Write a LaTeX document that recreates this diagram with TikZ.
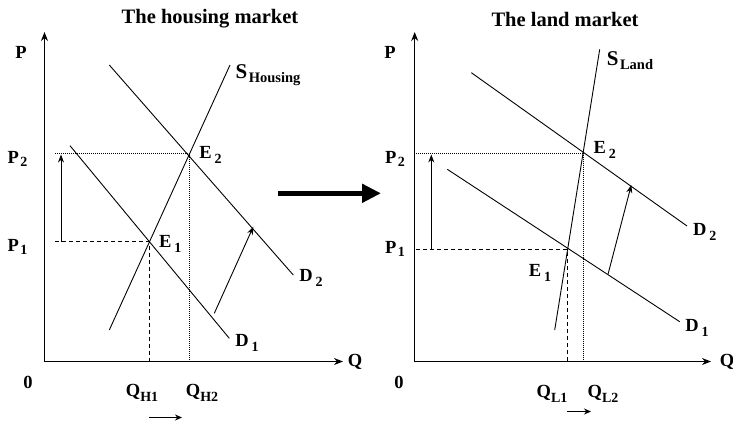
\documentclass[tikz,border=0pt]{standalone}
\usepackage{fontspec}
\setmainfont{Liberation Serif}
\usetikzlibrary{arrows.meta}
\newcommand\sublab[2]{#1\hspace{3pt}\raisebox{-5pt}{\fontsize{14}{14}\selectfont #2}}
\newcommand\plab[2]{#1\hspace{1.5pt}\raisebox{-2.5pt}{\fontsize{14}{14}\selectfont #2}}
\newcommand\qlab[2]{#1\raisebox{-5pt}{\fontsize{14}{14}\selectfont #2}}
\newcommand\slab[2]{{\fontsize{21}{21}\selectfont #1}\hspace{1.5pt}\raisebox{-4pt}{\fontsize{14.5}{14.5}\selectfont #2}}
\begin{document}
\begin{tikzpicture}[x=1pt,y=-1pt,
  curve/.style={line width=0.9pt},
  axisline/.style={line width=1.3pt,-{Stealth[length=9pt,width=7pt]}},
  dashguide/.style={line width=0.8pt,dash pattern=on 4pt off 3pt},
  dotguide/.style={line width=0.8pt,dash pattern=on 1pt off 1pt},
  shiftarrow/.style={line width=0.9pt,-{Stealth[length=8pt,width=6pt]}},
  smallarrow/.style={line width=0.9pt,-{Stealth[length=7pt,width=6pt]}},
  bigarrow/.style={line width=5pt,-{Triangle[length=19pt,width=18pt]}},
  lbl/.style={font=\fontsize{18.5}{18.5}\selectfont\bfseries, inner sep=0pt},
  ttl/.style={font=\fontsize{20.5}{20.5}\selectfont\bfseries, inner sep=0pt},
]
\useasboundingbox (0,0) rectangle (733,421);

% ---------------- housing market ----------------
\coordinate (hO) at (44.5,361.5);
\coordinate (hYt) at (44.5,32);
\coordinate (hXr) at (343,361.5);
\coordinate (hE1) at (149,241.7);
\coordinate (hE2) at (189.3,153.7);
\coordinate (hSa) at (109.3,330);
\coordinate (hSb) at (230,65);
\coordinate (hD1a) at (70,145.7);
\coordinate (hD1b) at (229.3,338.3);
\coordinate (hD2a) at (109.3,65);
\coordinate (hD2b) at (293.3,275);
\coordinate (hP1) at (55,241.7);
\coordinate (hP2) at (55,153.7);
\coordinate (hQ1) at (149,361.5);
\coordinate (hQ2) at (189.3,361.5);
\coordinate (hA1) at (61,241.7);
\coordinate (hA2) at (61,154.5);
\coordinate (hB1) at (214.3,313.3);
\coordinate (hB2) at (253.3,226.7);
\coordinate (hC1) at (149,417.5);
\coordinate (hC2) at (182,417.5);

\draw[axisline] (hO) -- (hYt);
\draw[axisline] (hO) -- (hXr);
\draw[dashguide] (hP1) -- (hE1) -- (hQ1);
\draw[dotguide] (hP2) -- (hE2) -- (hQ2);
\draw[curve] (hSa) -- (hSb);
\draw[curve] (hD1a) -- (hD1b);
\draw[curve] (hD2a) -- (hD2b);
\draw[shiftarrow] (hA1) -- (hA2);
\draw[shiftarrow] (hB1) -- (hB2);
\draw[smallarrow] (hC1) -- (hC2);

\node[ttl] (hTitle) at (210,19) {The housing market};
\node[lbl] (hP) at (21,52) {P};
\node[lbl] (hP2l) at (17.5,159) {\plab{P}{2}};
\node[lbl] (hP1l) at (17.5,247) {\plab{P}{1}};
\node[lbl] (h0) at (28,382) {0};
\node[lbl] (hQ) at (355,362) {Q};
\node[lbl] (hQ1l) at (142,393) {\qlab{Q}{H1}};
\node[lbl] (hQ2l) at (202,393) {\qlab{Q}{H2}};
\node[lbl] (hE2l) at (210.5,155) {\sublab{E}{2}};
\node[lbl] (hE1l) at (170.3,243.5) {\sublab{E}{1}};
\node[lbl] (hD2l) at (311,278) {\sublab{D}{2}};
\node[lbl] (hD1l) at (247,343) {\sublab{D}{1}};
\node[lbl] (hSl) at (268,75) {\slab{S}{Housing}};

% ---------------- big arrow ----------------
\coordinate (bigA) at (278,193.3);
\coordinate (bigB) at (381,193.3);
\draw[bigarrow] (bigA) -- (bigB);

% ---------------- land market ----------------
\coordinate (lO) at (414.7,361.5);
\coordinate (lYt) at (414.7,32);
\coordinate (lXr) at (711,361.5);
\coordinate (lE1) at (567.3,249.3);
\coordinate (lE2) at (583,153.7);
\coordinate (lSa) at (554.7,330);
\coordinate (lSb) at (599.7,49.3);
\coordinate (lD1a) at (447.3,169.3);
\coordinate (lD1b) at (679.7,321.7);
\coordinate (lD2a) at (471.3,72.7);
\coordinate (lD2b) at (687,226);
\coordinate (lP1) at (416,249.3);
\coordinate (lP2) at (416,153.7);
\coordinate (lQ1) at (567.3,361.5);
\coordinate (lQ2) at (583,361.5);
\coordinate (lA1) at (431.3,249.3);
\coordinate (lA2) at (431.3,154.5);
\coordinate (lB1) at (608,274.3);
\coordinate (lB2) at (631.3,185);
\coordinate (lC1) at (567,411.5);
\coordinate (lC2) at (591,411.5);

\draw[axisline] (lO) -- (lYt);
\draw[axisline] (lO) -- (lXr);
\draw[dashguide] (lP1) -- (lE1) -- (lQ1);
\draw[dotguide] (lP2) -- (lE2) -- (lQ2);
\draw[curve] (lSa) -- (lSb);
\draw[curve] (lD1a) -- (lD1b);
\draw[curve] (lD2a) -- (lD2b);
\draw[shiftarrow] (lA1) -- (lA2);
\draw[shiftarrow] (lB1) -- (lB2);
\draw[smallarrow] (lC1) -- (lC2);

\node[ttl] (lTitle) at (565,19) {The land market};
\node[lbl] (lP) at (390,52) {P};
\node[lbl] (lP2l) at (395,159) {\plab{P}{2}};
\node[lbl] (lP1l) at (395,249) {\plab{P}{1}};
\node[lbl] (l0) at (399,382) {0};
\node[lbl] (lQ) at (727,362) {Q};
\node[lbl] (lQ1l) at (552,394) {\qlab{Q}{L1}};
\node[lbl] (lQ2l) at (603,394) {\qlab{Q}{L2}};
\node[lbl] (lE2l) at (604.7,149.7) {\sublab{E}{2}};
\node[lbl] (lE1l) at (540,272.8) {\sublab{E}{1}};
\node[lbl] (lD2l) at (704.7,232) {\sublab{D}{2}};
\node[lbl] (lD1l) at (697,328) {\sublab{D}{1}};
\node[lbl] (lSl) at (630,61) {\slab{S}{Land}};
\end{tikzpicture}
\end{document}
